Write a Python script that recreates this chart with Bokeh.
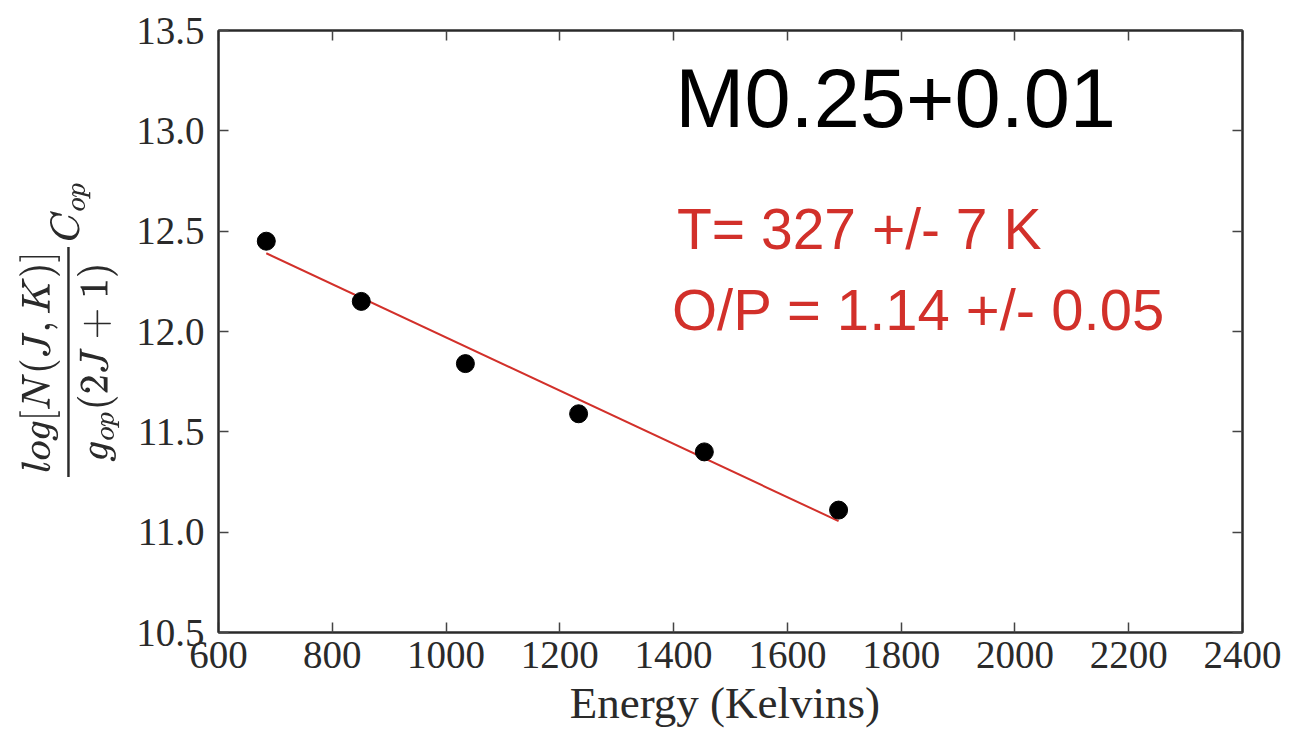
from bokeh.plotting import figure
from bokeh.models import Label, LinearAxis, FixedTicker, NumeralTickFormatter
from bokeh.embed import file_html
from bokeh.resources import INLINE

# Data
energy = [684, 851, 1034, 1233, 1454, 1690]
log_n = [12.45, 12.15, 11.84, 11.59, 11.40, 11.11]
fit_x = [684, 1690]
fit_y = [12.39, 11.055]

x_ticks = [600, 800, 1000, 1200, 1400, 1600, 1800, 2000, 2200, 2400]
y_ticks = [10.5, 11.0, 11.5, 12.0, 12.5, 13.0, 13.5]

title_text = "M0.25+0.01"
temp_text = "T= 327 +/- 7 K"
op_text = "O/P = 1.14 +/- 0.05"

SERIF = "Liberation Serif"
SANS = "Liberation Sans"
RED = "#d2302a"
DARK = "#2a2a2a"

p = figure(width=1295, height=730, output_backend="svg", toolbar_location=None,
           x_range=(600, 2400), y_range=(10.5, 13.5),
           min_border_left=218, min_border_right=53, min_border_top=30, min_border_bottom=93)

p.grid.visible = False
p.outline_line_color = DARK
p.outline_line_width = 2
p.background_fill_color = "white"
p.border_fill_color = "white"

for ax in (p.xaxis[0], p.yaxis[0]):
    ax.major_tick_in = 10
    ax.major_tick_out = 0
    ax.minor_tick_in = 0
    ax.minor_tick_out = 0
    ax.axis_line_color = DARK
    ax.axis_line_width = 2
    ax.major_tick_line_color = "#444444"
    ax.major_tick_line_width = 1.5
    ax.major_label_text_font = SERIF
    ax.major_label_text_font_size = "39px"
    ax.major_label_text_color = DARK
    ax.axis_label_text_font = SERIF
    ax.axis_label_text_font_style = "normal"
    ax.axis_label_text_color = DARK

p.xaxis[0].ticker = FixedTicker(ticks=x_ticks)
p.yaxis[0].ticker = FixedTicker(ticks=y_ticks)
p.yaxis[0].formatter = NumeralTickFormatter(format="0.0")
p.xaxis[0].major_label_standoff = 9
p.yaxis[0].major_label_standoff = 14
p.xaxis[0].axis_label = "Energy  (Kelvins)"
p.xaxis[0].axis_label_text_font_size = "45px"
p.xaxis[0].axis_label_standoff = 7
p.yaxis[0].axis_label = r"$$\dfrac{log[N(J,K)]}{g_{op}(2J+1)}C_{op}$$"
p.yaxis[0].axis_label_text_font_size = "38px"
p.yaxis[0].axis_label_standoff = 14

empty_x = {t: "" for t in x_ticks}
empty_y = {t: "" for t in y_ticks}
top = LinearAxis(ticker=FixedTicker(ticks=x_ticks), major_tick_in=10, major_tick_out=0,
                 minor_tick_in=0, minor_tick_out=0, major_label_text_font_size="1px",
                 major_label_overrides=empty_x,
                 major_label_standoff=0, axis_line_color=DARK, axis_line_width=2,
                 major_tick_line_color="#444444", major_tick_line_width=1.5)
right = LinearAxis(ticker=FixedTicker(ticks=y_ticks), major_tick_in=10, major_tick_out=0,
                   minor_tick_in=0, minor_tick_out=0, major_label_text_font_size="1px",
                   major_label_overrides=empty_y,
                   major_label_standoff=0, axis_line_color=DARK, axis_line_width=2,
                   major_tick_line_color="#444444", major_tick_line_width=1.5)
p.add_layout(top, "above")
p.add_layout(right, "right")

p.line(fit_x, fit_y, line_color=RED, line_width=2)
p.scatter(energy, log_n, size=18, fill_color="black", line_color="black")

p.add_layout(Label(x=1403, y=13.16, text=title_text, text_font=SANS, text_font_size="83px",
                   text_color="black", text_baseline="alphabetic"))
p.add_layout(Label(x=1406, y=12.51, text=temp_text, text_font=SANS, text_font_size="57px",
                   text_color=RED, text_baseline="alphabetic"))
p.add_layout(Label(x=1397, y=12.11, text=op_text, text_font=SANS, text_font_size="58px",
                   text_color=RED, text_baseline="alphabetic"))

open("out.html", "w").write(file_html(p, INLINE))
